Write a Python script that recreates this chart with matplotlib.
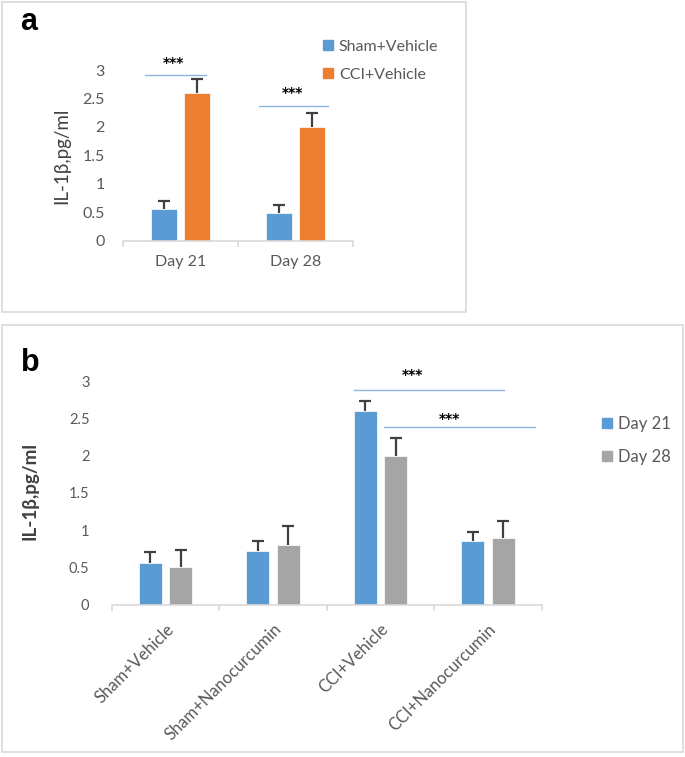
import numpy as np
import matplotlib
matplotlib.use("Agg")
import matplotlib.pyplot as plt
from matplotlib.patches import Rectangle
from matplotlib.lines import Line2D

plt.rcParams["font.family"] = ["Lato", "DejaVu Sans"]

# --- data: panel a ---
days = ["Day 21", "Day 28"]
sham_vehicle = [0.55, 0.48]
sham_vehicle_err = [0.14, 0.15]
cci_vehicle = [2.59, 1.99]
cci_vehicle_err = [0.26, 0.26]

# --- data: panel b ---
groups = ["Sham+Vehicle", "Sham+Nanocurcumin", "CCI+Vehicle", "CCI+Nanocurcumin"]
day21 = [0.56, 0.72, 2.60, 0.85]
day21_err = [0.14, 0.13, 0.14, 0.13]
day28 = [0.50, 0.80, 2.00, 0.90]
day28_err = [0.23, 0.25, 0.24, 0.23]

BLUE = "#5B9BD5"
ORANGE = "#ED7D31"
GREY = "#A5A5A5"
TXT = "#595959"
AXC = "#D9D9D9"
SIG = "#8DB4E2"
W, H = 685, 757

fig = plt.figure(figsize=(W / 100, H / 100), dpi=100)

def px(x0, y0, x1, y1):
    return [x0 / W, 1 - y1 / H, (x1 - x0) / W, (y1 - y0) / H]

# panel frames
for (x0, y0, x1, y1) in [(2, 2, 466, 312), (2, 325, 683, 752)]:
    fig.patches.append(Rectangle((x0 / W, 1 - y1 / H), (x1 - x0) / W, (y1 - y0) / H,
                                 transform=fig.transFigure, fill=False, ec=AXC, lw=1.2))

def style_axis(ax, n, labels, fs, rot=0):
    ax.set_xlim(-0.5, n - 0.5)
    ax.set_ylim(0, 3)
    ax.set_yticks(np.arange(0, 3.01, 0.5))
    ax.set_yticklabels(["0", "0.5", "1", "1.5", "2", "2.5", "3"])
    ax.tick_params(axis="y", length=0, pad=13, labelsize=fs, labelcolor=TXT)
    for s in ["top", "right", "left"]:
        ax.spines[s].set_visible(False)
    ax.spines["bottom"].set_color(AXC)
    ax.spines["bottom"].set_linewidth(1.2)
    ax.set_xticks(np.arange(-0.5, n, 1.0))
    ax.set_xticklabels([])
    ax.tick_params(axis="x", which="major", length=4, color=AXC, width=1.2)
    ax.set_xticks(np.arange(n), minor=True)
    if rot:
        ax.set_xticklabels(labels, minor=True, rotation=rot, ha="right",
                           rotation_mode="anchor")
        ax.tick_params(axis="x", which="minor", length=0, pad=12,
                       labelsize=12, labelcolor=TXT)
    else:
        ax.set_xticklabels(labels, minor=True)
        ax.tick_params(axis="x", which="minor", length=0, pad=10,
                       labelsize=fs, labelcolor=TXT)

def bars(ax, x, vals, errs, color):
    vals, errs = np.asarray(vals), np.asarray(errs)
    ax.bar(x, vals, bw, color=color, ec="white", lw=0.5, zorder=2)
    # upper error bar only, with a cap at the top
    ax.vlines(x, vals, vals + errs, color="#404040", lw=1.6, zorder=3)
    ax.plot(x, vals + errs, ls="none", marker="_", ms=8, mew=1.6,
            color="#404040", zorder=3)

def sig(ax, x0, x1, y, xs, ys):
    ax.plot([x0, x1], [y, y], color=SIG, lw=1.0, clip_on=False)
    ax.text(xs, ys, "***", ha="center", va="center", fontsize=10,
            family="DejaVu Sans", fontweight="bold", color="black", clip_on=False)

# ---------- panel a ----------
axa = fig.add_axes(px(122.7, 70, 353.3, 240.7))
xa = np.arange(len(days))
bw, off = 0.225, 0.143
bars(axa, xa - off, sham_vehicle, sham_vehicle_err, BLUE)
bars(axa, xa + off, cci_vehicle, cci_vehicle_err, ORANGE)
style_axis(axa, 2, days, 11.5)
axa.set_ylabel("IL-1β,pg/ml", fontsize=13.5, color="#404040", labelpad=8.5)
sig(axa, -0.31, 0.223, 2.91, -0.058, 3.12)
sig(axa, 0.685, 1.28, 2.36, 0.97, 2.59)
ha = [Line2D([], [], marker="s", ls="none", ms=7, color=c) for c in (BLUE, ORANGE)]
fig.legend(ha, ["Sham+Vehicle", "CCI+Vehicle"], loc="center left",
           bbox_to_anchor=(322 / W, 1 - 60.8 / H), frameon=False, fontsize=11.5,
           handlelength=0.7, handletextpad=0.35, labelspacing=0.85, borderpad=0,
           borderaxespad=0, labelcolor=TXT)
fig.text(20 / W, 1 - 30 / H, "a", fontsize=22, fontweight="bold",
         family="Liberation Sans", ha="left", va="baseline")

# ---------- panel b ----------
axb = fig.add_axes(px(111.7, 381.5, 541.7, 604.5))
xb = np.arange(len(groups))
bw, off = 0.217, 0.142
bars(axb, xb - off, day21, day21_err, BLUE)
bars(axb, xb + off, day28, day28_err, GREY)
style_axis(axb, 4, groups, 11.5, rot=45)
axb.tick_params(axis="y", pad=16, labelsize=10.5)
axb.set_ylabel("IL-1β,pg/ml", fontsize=13.5, color="#404040",
               fontweight="bold", labelpad=22, y=0.51)
sig(axb, 1.752, 3.147, 2.89, 2.295, 3.09)
sig(axb, 2.031, 3.442, 2.39, 2.642, 2.49)
hb = [Line2D([], [], marker="s", ls="none", ms=7, color=c) for c in (BLUE, GREY)]
fig.legend(hb, ["Day 21", "Day 28"], loc="center left",
           bbox_to_anchor=(601 / W, 1 - 440.5 / H), frameon=False, fontsize=12,
           handlelength=0.7, handletextpad=0.3, labelspacing=1.05, borderpad=0,
           borderaxespad=0, labelcolor=TXT)
fig.text(21 / W, 1 - 371 / H, "b", fontsize=22, fontweight="bold",
         family="Liberation Sans", ha="left", va="baseline")

fig.savefig("out.png", dpi=100)
